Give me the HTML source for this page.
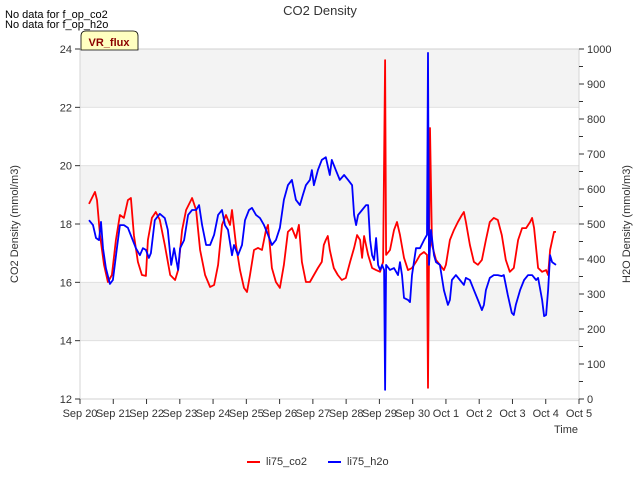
<!DOCTYPE html>
<html><head><meta charset="utf-8"><style>
body{margin:0;background:#fff;font-family:"Liberation Sans",sans-serif}
</style></head><body>
<svg width="640" height="480" xmlns="http://www.w3.org/2000/svg" font-family="Liberation Sans, sans-serif">
<g id="bands"></g>
<g id="grid"></g>
<g id="series"></g>
<rect x="80" y="49" width="499" height="350" fill="none" stroke="#ccc" stroke-width="0.8"/>
<g id="axes" font-size="11" fill="#333"></g>
<text x="320" y="15" text-anchor="middle" font-size="13" fill="#333">CO2 Density</text>
<text x="5" y="18" font-size="11" fill="#000">No data for f_op_co2</text>
<text x="5" y="28" font-size="11" fill="#000">No data for f_op_h2o</text>
<g>
<path d="M81,50 L81,36 Q81,31 86,31 L133,31 Q138,31 138,36 L138,50 Z" fill="#ffffc0" stroke="#000" stroke-width="0.8"/>
<text x="109" y="46" text-anchor="middle" font-size="11" font-weight="bold" fill="#8b0000">VR_flux</text>
</g>
<text x="566" y="433" text-anchor="middle" font-size="11" fill="#333">Time</text>
<text transform="translate(18,224) rotate(-90)" text-anchor="middle" font-size="11" fill="#333">CO2 Density (mmol/m3)</text>
<text transform="translate(630,224) rotate(-90)" text-anchor="middle" font-size="11" fill="#333">H2O Density (mmol/m3)</text>
<g font-size="11" fill="#333">
<line x1="247" y1="462" x2="260" y2="462" stroke="#f00" stroke-width="2"/>
<text x="266" y="465">li75_co2</text>
<line x1="328" y1="462" x2="341" y2="462" stroke="#00f" stroke-width="2"/>
<text x="347" y="465">li75_h2o</text>
</g>
<script>
const xTickLabels=["Sep 20","Sep 21","Sep 22","Sep 23","Sep 24","Sep 25","Sep 26","Sep 27","Sep 28","Sep 29","Sep 30","Oct 1","Oct 2","Oct 3","Oct 4","Oct 5"];
const leftTicks=[12,14,16,18,20,22,24];
const rightTicks=[0,100,200,300,400,500,600,700,800,900,1000];
const co2Series=[[0.27,18.69],[0.45,19.10],[0.51,18.82],[0.60,17.62],[0.72,16.60],[0.84,16.01],[0.96,16.25],[1.08,17.45],[1.20,18.31],[1.32,18.21],[1.44,18.82],[1.53,18.89],[1.62,17.62],[1.74,16.70],[1.86,16.25],[1.98,16.22],[2.04,17.45],[2.16,18.21],[2.28,18.41],[2.40,18.14],[2.55,17.28],[2.71,16.25],[2.86,16.08],[2.95,16.42],[3.07,17.79],[3.19,18.48],[3.37,18.89],[3.49,18.48],[3.61,17.11],[3.76,16.25],[3.91,15.84],[4.03,15.91],[4.15,16.60],[4.27,17.97],[4.39,18.31],[4.51,17.97],[4.57,18.48],[4.69,17.28],[4.81,16.42],[4.93,15.81],[5.02,15.67],[5.11,16.25],[5.23,17.11],[5.35,17.18],[5.47,17.11],[5.59,17.79],[5.65,17.97],[5.77,16.49],[5.89,16.01],[6.01,15.81],[6.13,16.60],[6.25,17.73],[6.37,17.86],[6.49,17.52],[6.58,17.97],[6.67,16.70],[6.79,16.01],[6.91,16.01],[7.03,16.25],[7.15,16.49],[7.27,16.70],[7.33,17.28],[7.39,17.45],[7.45,17.59],[7.51,17.11],[7.63,16.49],[7.75,16.25],[7.87,16.08],[7.99,16.15],[8.12,16.70],[8.24,17.18],[8.33,17.62],[8.42,17.45],[8.48,16.84],[8.54,17.59],[8.66,16.94],[8.78,16.49],[8.90,16.42],[9.02,16.36],[9.11,16.70],[9.17,23.62],[9.20,16.94],[9.32,17.11],[9.44,17.79],[9.53,18.07],[9.62,17.62],[9.74,16.84],[9.86,16.42],[9.98,16.49],[10.10,16.70],[10.22,16.94],[10.34,17.04],[10.43,16.94],[10.46,12.38],[10.49,16.94],[10.52,21.29],[10.58,17.28],[10.70,16.77],[10.82,16.60],[10.94,16.42],[11.00,16.60],[11.12,17.45],[11.24,17.79],[11.36,18.07],[11.48,18.31],[11.54,18.41],[11.60,18.07],[11.72,17.28],[11.84,16.70],[11.96,16.60],[12.08,16.77],[12.20,17.45],[12.32,18.07],[12.44,18.21],[12.56,18.14],[12.68,17.62],[12.80,16.77],[12.92,16.36],[13.04,16.49],[13.17,17.45],[13.29,17.86],[13.41,17.86],[13.53,18.07],[13.59,18.21],[13.65,17.86],[13.77,16.49],[13.89,16.36],[14.01,16.42],[14.07,16.25],[14.13,17.11],[14.25,17.73],[14.31,17.73]];
const h2oSeries=[[0.27,511],[0.39,497],[0.48,460],[0.57,454],[0.63,506],[0.69,431],[0.78,374],[0.90,329],[0.99,340],[1.11,431],[1.20,497],[1.32,497],[1.44,489],[1.56,460],[1.68,431],[1.80,411],[1.89,431],[1.98,426],[2.07,403],[2.13,417],[2.25,511],[2.40,529],[2.55,517],[2.64,483],[2.74,383],[2.83,431],[2.95,369],[3.01,431],[3.13,454],[3.25,526],[3.37,540],[3.49,540],[3.58,554],[3.67,497],[3.79,440],[3.91,440],[4.03,469],[4.15,526],[4.27,540],[4.36,497],[4.45,483],[4.57,411],[4.63,440],[4.75,411],[4.87,440],[4.96,511],[5.08,540],[5.17,546],[5.29,526],[5.41,517],[5.53,497],[5.65,469],[5.77,440],[5.89,454],[6.01,489],[6.13,569],[6.25,611],[6.37,626],[6.49,569],[6.61,554],[6.70,583],[6.79,611],[6.91,626],[6.97,654],[7.03,611],[7.15,654],[7.27,683],[7.39,691],[7.51,640],[7.57,683],[7.69,654],[7.81,626],[7.94,640],[8.06,626],[8.18,611],[8.24,526],[8.30,497],[8.36,526],[8.48,540],[8.60,554],[8.66,554],[8.72,454],[8.78,411],[8.84,397],[8.90,460],[8.96,383],[9.02,369],[9.08,383],[9.14,369],[9.17,26],[9.20,383],[9.32,369],[9.44,374],[9.56,354],[9.62,391],[9.68,354],[9.74,289],[9.86,283],[9.92,277],[9.98,354],[10.10,431],[10.22,431],[10.34,454],[10.43,469],[10.46,989],[10.49,383],[10.55,483],[10.64,411],[10.70,391],[10.82,383],[10.94,311],[11.06,269],[11.12,283],[11.18,340],[11.30,354],[11.42,340],[11.54,326],[11.60,346],[11.72,340],[11.84,311],[11.96,283],[12.08,254],[12.14,269],[12.20,311],[12.32,346],[12.44,354],[12.56,354],[12.68,351],[12.74,354],[12.86,297],[12.98,246],[13.04,240],[13.10,269],[13.23,311],[13.35,340],[13.47,354],[13.53,354],[13.59,354],[13.71,340],[13.77,346],[13.89,283],[13.95,237],[14.01,240],[14.07,311],[14.13,411],[14.19,391],[14.31,383]];
const NS="http://www.w3.org/2000/svg";
const X0=80,X1=579,Y0=399,Y1=49;
const xs=d=>X0+d*(X1-X0)/15;
const yL=v=>Y0-(v-12)*(Y0-Y1)/12;
const yR=v=>Y0-v*(Y0-Y1)/1000;
function mk(tag,attrs,parent){const e=document.createElementNS(NS,tag);for(const k in attrs)e.setAttribute(k,attrs[k]);parent.appendChild(e);return e;}
const bands=document.getElementById('bands'),grid=document.getElementById('grid'),axes=document.getElementById('axes'),series=document.getElementById('series');
[[22,24],[18,20],[14,16]].forEach(b=>{const r=mk('rect',{x:X0,y:yL(b[1]),width:X1-X0,height:yL(b[0])-yL(b[1]),fill:'#f3f3f3'},bands);

});
leftTicks.forEach(v=>{const l=mk('line',{x1:X0,x2:X1,y1:yL(v),y2:yL(v),stroke:'#ddd','stroke-width':0.8},grid);


const tk=mk('line',{x1:X0-5,x2:X0,y1:yL(v),y2:yL(v),stroke:'#333'},axes);


const t=mk('text',{x:X0-8,y:yL(v)+4,'text-anchor':'end'},axes);t.textContent=v;

});
rightTicks.forEach(v=>{const tk=mk('line',{x1:X1,x2:X1+5,y1:yR(v),y2:yR(v),stroke:'#333'},axes);


if(v<1000){const m=mk('line',{x1:X1,x2:X1+4,y1:yR(v+50),y2:yR(v+50),stroke:'#333'},axes);

}
const t=mk('text',{x:X1+8,y:yR(v)+4},axes);t.textContent=v;

});
xTickLabels.forEach((s,i)=>{const tk=mk('line',{x1:xs(i),x2:xs(i),y1:Y0,y2:Y0+5,stroke:'#333'},axes);


const t=mk('text',{x:xs(i),y:Y0+18,'text-anchor':'middle'},axes);t.textContent=s;

});
const pc=mk('polyline',{points:co2Series.map(p=>xs(p[0]).toFixed(1)+','+yL(p[1]).toFixed(1)).join(' '),fill:'none',stroke:'#f00','stroke-width':1.8,'stroke-linejoin':'round'},series);


const ph=mk('polyline',{points:h2oSeries.map(p=>xs(p[0]).toFixed(1)+','+yR(p[1]).toFixed(1)).join(' '),fill:'none',stroke:'#00f','stroke-width':1.8,'stroke-linejoin':'round'},series);


</script>
</svg>
</body></html>
